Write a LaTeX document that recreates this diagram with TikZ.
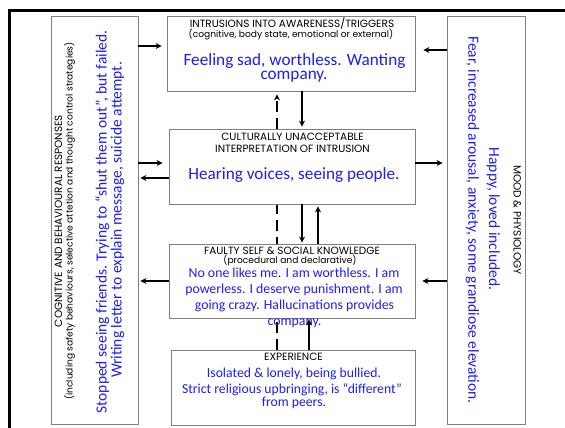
\documentclass[tikz,border=0pt]{standalone}
\usepackage{fontspec}
\usetikzlibrary{arrows.meta,backgrounds}
\newfontfamily\hdrfont{Poppins}
\newfontfamily\blufont{Carlito}
\definecolor{boxgray}{RGB}{128,128,128}
\definecolor{txtblue}{RGB}{30,30,245}
\begin{document}
\begin{tikzpicture}[x=1pt,y=-1pt,
  box/.style={draw=boxgray, line width=0.9pt, fill=white, inner sep=0pt},
  hdr/.style={font=\hdrfont\fontsize{10.5}{11}\selectfont, inner sep=0pt, anchor=base},
  sub/.style={font=\hdrfont\fontsize{9.1}{10}\selectfont, inner sep=0pt, anchor=base},
  bluetxt/.style={text=txtblue, inner sep=0pt, anchor=base, text height=0.62em, text depth=0.1em},
  bigblue/.style={bluetxt, font=\blufont\fontsize{17.2}{17}\selectfont},
  midblue/.style={bluetxt, font=\blufont\fontsize{13.8}{14}\selectfont},
  sideblue/.style={bluetxt, font=\blufont\fontsize{15.5}{15}\selectfont},
  smlblue/.style={bluetxt, font=\blufont\fontsize{13.7}{13}\selectfont},
  arr/.style={line width=1.2pt, -{Stealth[length=6pt,width=6pt,inset=2pt]}},
  darr/.style={arr, dash pattern=on 11pt off 6pt},
]
\useasboundingbox (0,0) rectangle (565,428);
% outer frame
\draw[line width=2.7pt] (9.7,440) -- (9.7,10.3) -- (580,10.3);

% boxes
\node[box, minimum width=87pt, minimum height=408pt] (L) at (94.5,220) {};
\node[box, minimum width=78pt, minimum height=408pt] (R) at (486,220) {};
\node[box, minimum width=248pt, minimum height=75pt] (T) at (291,53.5) {};
\node[box, minimum width=246pt, minimum height=75pt] (M) at (292,166.5) {};
\node[box, minimum width=246pt, minimum height=74pt] (F) at (292,281) {};
\node[box, minimum width=244pt, minimum height=75pt] (E) at (293,387.5) {};

% dashed line behind boxes
\begin{scope}[on background layer]
  \draw[darr, shorten >=3pt] ([xshift=-16pt]E.north) -- ([xshift=-16pt]E.north |- T.south);
\end{scope}

% top box text
\node[hdr] (t1) at (292,27.5) {INTRUSIONS INTO AWARENESS/TRIGGERS};
\node[sub] (t2) at (291,38) {(cognitive, body state, emotional or external)};
\node[bigblue] (t3) at (294.5,65.7) {Feeling sad, worthless. Wanting};
\node[bigblue] (t4) at (294,80) {company.};

% middle box text
\node[hdr] (m1) at (292.5,140) {CULTURALLY UNACCEPTABLE};
\node[hdr] (m2) at (292.5,152) {INTERPRETATION OF INTRUSION};
\node[bigblue] (m3) at (294,179) {Hearing voices, seeing people.};

% faulty box text
\node[hdr] (f1) at (292,254) {FAULTY SELF \& SOCIAL KNOWLEDGE};
\node[sub] (f2) at (290,263.5) {(procedural and declarative)};
\node[midblue] (f3) at (294,277.7) {No one likes me. I am worthless. I am};
\node[midblue] (f4) at (294,293.3) {powerless. I deserve punishment. I am};
\node[midblue] (f5) at (294.5,309) {going crazy. Hallucinations provides};
\node[midblue] (f6) at (294.5,325) {company.};

% experience box text
\node[hdr] (e1) at (293.5,360.7) {EXPERIENCE};
\node[smlblue] (e2) at (294,377.3) {Isolated \& lonely, being bullied.};
\node[smlblue] (e3) at (292,393.3) {Strict religious upbringing, is “different”};
\node[smlblue] (e4) at (294,406.5) {from peers.};

% left box rotated text
\node[hdr, rotate=90] (l1) at (62,221) {COGNITIVE AND BEHAVIOURAL RESPONSES};
\node[sub, rotate=90] (l2) at (72.5,221) {(including safety behaviours, selective attetion and thought control strategies)};
\node[sideblue, rotate=90] (l3) at (106.5,222) {Stopped seeing friends. Trying to “shut them out”, but failed.};
\node[sideblue, rotate=90] (l4) at (121.5,220) {Writing letter to explain message, suicide attempt.};

% right box rotated text
\node[hdr, rotate=-90] (r1) at (513.5,220) {MOOD \& PHYSIOLOGY};
\node[sideblue, rotate=-90] (r2) at (489,219) {Happy, loved included.};
\node[sideblue, rotate=-90] (r3) at (468.3,220) {Fear, increased arousal, anxiety, some grandiose elevation.};

% horizontal arrows
\draw[arr, shorten >=5pt] ([yshift=7.5pt]T.west -| L.east) -- ([yshift=7.5pt]T.west);
\draw[arr, shorten >=8pt] ([yshift=3.5pt]T.east -| R.west) -- ([yshift=3.5pt]T.east);
\draw[arr, shorten >=6pt] ([yshift=3.5pt]M.west -| L.east) -- ([yshift=3.5pt]M.west);
\draw[arr, shorten >=2pt] ([yshift=-11.5pt]M.west) -- ([yshift=-11.5pt]M.west -| L.east);
\draw[arr, shorten >=4pt] ([yshift=3.5pt]M.east) -- ([yshift=3.5pt]M.east -| R.west);
\draw[arr, shorten >=2pt] (F.west) -- (F.west -| L.east);
\draw[arr, shorten >=7pt] (F.east -| R.west) -- (F.east);

% vertical arrows
\draw[arr, shorten >=2pt] ([xshift=11pt]T.south) -- ([xshift=11pt]T.south |- M.north);
\draw[arr, shorten >=1pt] ([xshift=10pt]M.south) -- ([xshift=10pt]M.south |- F.north);
\draw[arr, shorten >=2pt] ([xshift=26pt]M.south |- F.north) -- ([xshift=26pt]M.south);
\draw[arr, shorten >=1pt] ([xshift=16pt]E.north) -- ([xshift=16pt]E.north |- F.south);
\end{tikzpicture}
\end{document}
